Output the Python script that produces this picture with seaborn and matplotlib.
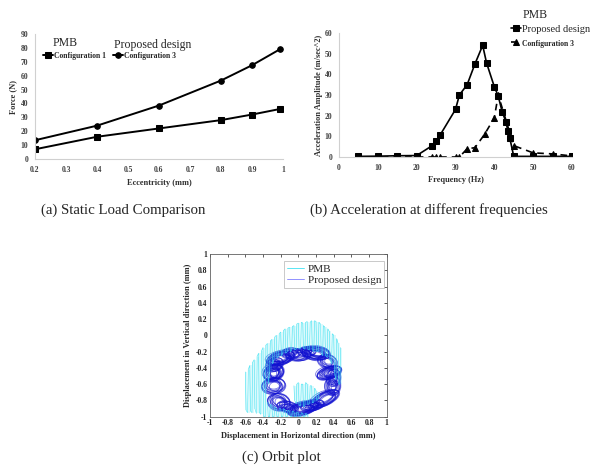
import numpy as np
import matplotlib
matplotlib.use("Agg")
import matplotlib.pyplot as plt
import seaborn as sns
import pandas as pd
from matplotlib.patches import Ellipse

# ---------------- data ----------------
# (a) Static load comparison
ecc = [0.2, 0.4, 0.6, 0.8, 0.9, 0.99]
force_cfg1 = [7, 16, 22, 28, 32, 36]
force_cfg3 = [13.5, 24, 38.5, 56.5, 67.5, 79]
a_xticks = [0.2, 0.3, 0.4, 0.5, 0.6, 0.7, 0.8, 0.9, 1.0]
a_xticklabels = ["0.2", "0.3", "0.4", "0.5", "0.6", "0.7", "0.8", "0.9", "1"]
a_yticks = [0, 10, 20, 30, 40, 50, 60, 70, 80, 90]

# (b) Acceleration at different frequencies
freq_prop = [5, 10, 15, 20, 24, 25, 26, 30, 31, 33, 35, 37, 38, 40, 41, 42, 43, 43.5, 44, 45, 50, 55, 60]
acc_prop = [0.3, 0.4, 0.6, 0.7, 5.5, 7.5, 10.5, 23, 30, 35, 45, 54, 45.5, 34, 29.5, 22, 17, 12.5, 9, 0.3, 0.3, 0.3, 0.3]
freq_cfg3 = [5, 10, 15, 20, 24, 25, 26, 30, 31, 33, 35, 37.5, 40, 41, 45, 50, 55, 60]
acc_cfg3 = [0, 0, 0, 0, 0, 0, 0, 0, 0, 4, 4.5, 11, 19, 30, 5.5, 2, 1.5, 0.5]
b_xticks = [0, 10, 20, 30, 40, 50, 60]
b_yticks = [0, 10, 20, 30, 40, 50, 60]

# (c) Orbit plot - PMB (cyan) trace strokes
pmb_up_x = [-0.6, -0.575, -0.55, -0.525, -0.5, -0.475, -0.45, -0.425, -0.4, -0.375, -0.35, -0.325,
            -0.3, -0.275, -0.25, -0.225, -0.2, -0.175, -0.15, -0.125, -0.1, -0.075, -0.05, -0.025,
            0.0, 0.025, 0.05, 0.075, 0.1, 0.125, 0.15, 0.175, 0.2, 0.225, 0.25, 0.275, 0.3, 0.325,
            0.35, 0.375, 0.4, 0.425, 0.45, 0.47]
pmb_up_top = [-0.45, -0.42, -0.37, -0.33, -0.3, -0.26, -0.22, -0.19, -0.15, -0.12, -0.1, -0.07,
              -0.05, -0.02, 0.0, 0.02, 0.04, 0.06, 0.08, 0.09, 0.1, 0.11, 0.12, 0.14,
              0.15, 0.16, 0.15, 0.16, 0.17, 0.16, 0.18, 0.18, 0.17, 0.16, 0.14, 0.12, 0.1, 0.08,
              0.05, 0.02, 0.0, -0.04, -0.1, -0.15]
pmb_up_bot = [-0.92, -0.95, -0.93, -0.95, -0.9, -0.96, -0.95, -0.97, -1.0, -1.0, -0.6, -0.45,
              -0.35, -0.3, -0.28, -0.26, -0.25, -0.22, -0.22, -0.2, -0.2, -0.18, -0.18, -0.17,
              -0.17, -0.16, -0.16, -0.17, -0.17, -0.18, -0.18, -0.2, -0.2, -0.2, -0.22, -0.25, -0.25, -0.27,
              -0.3, -0.35, -0.45, -0.55, -0.6, -0.6]
pmb_low_x = [-0.35, -0.325, -0.3, -0.275, -0.25, -0.225, -0.2, -0.175, -0.15, -0.125, -0.1, -0.075,
             -0.05, -0.025, 0.0, 0.025, 0.05, 0.075, 0.1]
pmb_low_top = [-0.82, -0.85, -0.86, -0.88, -0.9, -0.9, -0.9, -0.9, -0.92, -0.92, -0.93, -0.93,
               -0.94, -0.94, -0.95, -0.95, -0.96, -0.96, -0.97]
pmb_low_bot = [-1.0] * 19
pmb_in_x = [-0.05, -0.025, 0.0, 0.025, 0.05, 0.075, 0.1, 0.125, 0.15, 0.175, 0.2, 0.225]
pmb_in_top = [-0.62, -0.6, -0.58, -0.6, -0.6, -0.58, -0.6, -0.62, -0.62, -0.65, -0.68, -0.7]
pmb_in_bot = [-0.8, -0.84, -0.86, -0.87, -0.88, -0.86, -0.85, -0.84, -0.83, -0.82, -0.8, -0.78]

# Proposed design (blue) loop clusters: centre, width, height, angle, loops
prop_cx = [-0.2, 0.0, 0.2, 0.33, 0.35, 0.39, 0.3, 0.05, -0.22, -0.28, -0.28, -0.27, 0.16, -0.12, -0.08, 0.4, 0.1]
prop_cy = [-0.28, -0.24, -0.22, -0.32, -0.46, -0.62, -0.78, -0.9, -0.82, -0.62, -0.46, -0.36, -0.86, -0.88, -0.22, -0.52, -0.2]
prop_w = [0.32, 0.28, 0.32, 0.22, 0.28, 0.16, 0.36, 0.36, 0.26, 0.2, 0.22, 0.2, 0.26, 0.24, 0.22, 0.14, 0.2]
prop_h = [0.16, 0.15, 0.15, 0.16, 0.15, 0.24, 0.16, 0.15, 0.2, 0.26, 0.2, 0.16, 0.13, 0.13, 0.13, 0.22, 0.12]
prop_ang = [15, 0, -10, -30, 20, 0, 30, 15, -30, 90, 30, 40, 10, -20, 0, 0, 0]
prop_loops = [18, 10, 18, 10, 16, 10, 14, 18, 12, 12, 18, 10, 12, 10, 8, 10, 8]
c_ticks = [-1, -0.8, -0.6, -0.4, -0.2, 0, 0.2, 0.4, 0.6, 0.8, 1]
c_ticklabels = ["-1", "-0.8", "-0.6", "-0.4", "-0.2", "0", "0.2", "0.4", "0.6", "0.8", "1"]

# ---------------- style ----------------
sns.set_theme(style="white")
plt.rcParams["font.family"] = ["Liberation Serif", "DejaVu Serif"]

W, H = 598, 468
fig = plt.figure(figsize=(W / 100, H / 100), dpi=100)
fig.patch.set_facecolor("white")


def px_axes(left, top, right, bottom):
    return fig.add_axes([left / W, 1 - bottom / H, (right - left) / W, (bottom - top) / H])


tick_gray = "#404040"
spine_gray = "#d0d0d0"

# ---------------- (a) ----------------
axA = px_axes(35, 34, 283, 159)
dfa = pd.DataFrame({"x": ecc, "c1": force_cfg1, "c3": force_cfg3})
sns.lineplot(data=dfa, x="x", y="c1", ax=axA, color="black", lw=1.4, marker="s",
             markersize=4, markeredgecolor="black", label="Configuration 1")
sns.lineplot(data=dfa, x="x", y="c3", ax=axA, color="black", lw=1.4, marker="o",
             markersize=4, markeredgecolor="black", label="Configuration 3")
axA.set_xlim(0.2, 1.0)
axA.set_ylim(0, 90)
axA.set_xticks(a_xticks)
axA.set_xticklabels(a_xticklabels)
axA.set_yticks(a_yticks)
for s in ["top", "right"]:
    axA.spines[s].set_visible(False)
for s in ["left", "bottom"]:
    axA.spines[s].set_color(spine_gray)
    axA.spines[s].set_linewidth(0.8)
axA.tick_params(length=0, labelsize=5.5, colors=tick_gray, pad=5)
for t in axA.get_xticklabels() + axA.get_yticklabels():
    t.set_fontweight("bold")
axA.set_xlabel("Eccentricity (mm)", fontsize=6, fontweight="bold", color="#303030")
axA.set_ylabel("Force (N)", fontsize=6, fontweight="bold", color="#303030")
axA.xaxis.set_label_coords(0.5, -0.16)
axA.yaxis.set_label_coords(-0.073, 0.5)
legA = axA.legend(loc="upper left", bbox_to_anchor=(0.02, 0.88), frameon=False, ncol=2,
                  fontsize=5.5, handlelength=1.3, handletextpad=0.1, columnspacing=1.0,
                  borderaxespad=0)
for t in legA.get_texts():
    t.set_fontweight("bold")
axA.text(0.07, 0.93, "PMB", transform=axA.transAxes, fontsize=8.5, ha="left", va="center")
axA.text(0.32, 0.915, "Proposed design", transform=axA.transAxes, fontsize=8.5, ha="left", va="center")

# ---------------- (b) ----------------
axB = px_axes(339, 33, 572, 157)
dfp = pd.DataFrame({"f": freq_prop, "a": acc_prop})
dfc = pd.DataFrame({"f": freq_cfg3, "a": acc_cfg3})
sns.lineplot(data=dfc, x="f", y="a", ax=axB, color="black", lw=1.2, linestyle=(0, (4, 3)),
             marker="^", markersize=4, markeredgecolor="black", label="Configuration 3")
sns.lineplot(data=dfp, x="f", y="a", ax=axB, color="black", lw=1.2, marker="s",
             markersize=4, markeredgecolor="black", label="Proposed design")
axB.set_xlim(0, 60)
axB.set_ylim(0, 60)
axB.set_xticks(b_xticks)
axB.set_yticks(b_yticks)
for s in ["top", "right"]:
    axB.spines[s].set_visible(False)
for s in ["left", "bottom"]:
    axB.spines[s].set_color(spine_gray)
    axB.spines[s].set_linewidth(0.8)
axB.tick_params(length=0, labelsize=5.5, colors=tick_gray, pad=5)
for t in axB.get_xticklabels() + axB.get_yticklabels():
    t.set_fontweight("bold")
axB.set_xlabel("Frequency (Hz)", fontsize=6, fontweight="bold", color="#303030")
axB.set_ylabel("Acceleration Amplitude (m/sec^2)", fontsize=6, fontweight="bold", color="#303030")
axB.xaxis.set_label_coords(0.5, -0.153)
axB.yaxis.set_label_coords(-0.07, 0.5)
h, l = axB.get_legend_handles_labels()
legB = axB.legend([h[1], h[0]], [l[1], l[0]], loc="upper left", bbox_to_anchor=(0.72, 1.1),
                  frameon=False, fontsize=7.5, handlelength=1.0, handletextpad=0.05,
                  borderaxespad=0, labelspacing=0.4)
legB.get_texts()[1].set_fontsize(5.5)
legB.get_texts()[1].set_fontweight("bold")
axB.text(0.79, 1.145, "PMB", transform=axB.transAxes, fontsize=8.5, ha="left", va="center")

# ---------------- (c) ----------------
axC = px_axes(210, 254, 386.7, 416.7)
axC.set_xlim(-1, 1)
axC.set_ylim(-1, 1)
cyan = "#3ee2f2"
blue = "#1010d0"


def zigzag(xs, tops, bots):
    px, py = [], []
    for i, (x, t, b) in enumerate(zip(xs, tops, bots)):
        px += [x, x + 0.008]
        py += [t, b] if i % 2 == 0 else [b, t]
    return px, py


for xs, ts, bs in [(pmb_up_x, pmb_up_top, pmb_up_bot), (pmb_low_x, pmb_low_top, pmb_low_bot),
                   (pmb_in_x, pmb_in_top, pmb_in_bot)]:
    zx, zy = zigzag(xs, ts, bs)
    axC.plot(zx, zy, color=cyan, lw=0.45, alpha=0.85)
    axC.vlines([x + 0.013 for x in xs], bs, ts, color=cyan, lw=0.35, alpha=0.7)

offsets = [(0, 0, 1.0), (0.02, 0.01, 0.85), (-0.02, -0.01, 0.9), (0.01, -0.02, 0.7),
           (-0.01, 0.02, 0.75), (0.03, -0.01, 0.6), (-0.03, 0.0, 0.8), (0.0, 0.015, 0.55),
           (0.015, 0.0, 0.95), (-0.015, -0.015, 0.65), (0.025, 0.02, 0.8), (-0.025, -0.02, 0.85),
           (0.035, 0.0, 0.7), (-0.035, 0.01, 0.9), (0.04, 0.02, 0.75), (-0.04, -0.02, 0.7),
           (0.01, 0.03, 0.85), (-0.01, -0.03, 0.8)]
for cx, cy, w, hh, ang, n in zip(prop_cx, prop_cy, prop_w, prop_h, prop_ang, prop_loops):
    for dx, dy, sc in offsets[:n]:
        axC.add_patch(Ellipse((cx + dx, cy + dy), w * sc, hh * sc, angle=ang, facecolor="none",
                              edgecolor=blue, linewidth=0.6, alpha=0.55))
axC.plot([], [], color=cyan, lw=0.6, label="PMB")
axC.plot([], [], color="#8080ff", lw=0.6, label="Proposed design")
legC = axC.legend(loc="upper right", bbox_to_anchor=(0.985, 0.955), fontsize=8, frameon=True,
                  fancybox=False, handlelength=1.6, handletextpad=0.3, borderpad=0.25,
                  labelspacing=0.1, borderaxespad=0)
legC.get_frame().set_edgecolor("#b0b0b0")
legC.get_frame().set_linewidth(0.6)
axC.set_xticks(c_ticks)
axC.set_xticklabels(c_ticklabels)
axC.set_yticks(c_ticks)
axC.set_yticklabels(c_ticklabels)
for s in axC.spines.values():
    s.set_visible(True)
    s.set_color("#606060")
    s.set_linewidth(0.6)
axC.tick_params(direction="in", length=2, width=0.5, top=True, right=True, labelsize=5.5,
                colors="#202020", pad=2)
for t in axC.get_xticklabels() + axC.get_yticklabels():
    t.set_fontweight("bold")
axC.set_xlabel("Displacement in Horizontal direction (mm)", fontsize=6, fontweight="bold")
axC.set_ylabel("Displacement in Vertical direction (mm)", fontsize=6, fontweight="bold")
axC.xaxis.set_label_coords(0.5, -0.092)
axC.yaxis.set_label_coords(-0.10, 0.5)

# ---------------- captions ----------------
fig.text(123 / W, 1 - 210 / H, "(a) Static Load Comparison", fontsize=10.7, ha="center", va="center")
fig.text(429 / W, 1 - 210 / H, "(b) Acceleration at different frequencies", fontsize=10.7,
         ha="center", va="center")
fig.text(281 / W, 1 - 457 / H, "(c) Orbit plot", fontsize=10.7, ha="center", va="center")

fig.savefig("out.png", dpi=100, facecolor="white")
